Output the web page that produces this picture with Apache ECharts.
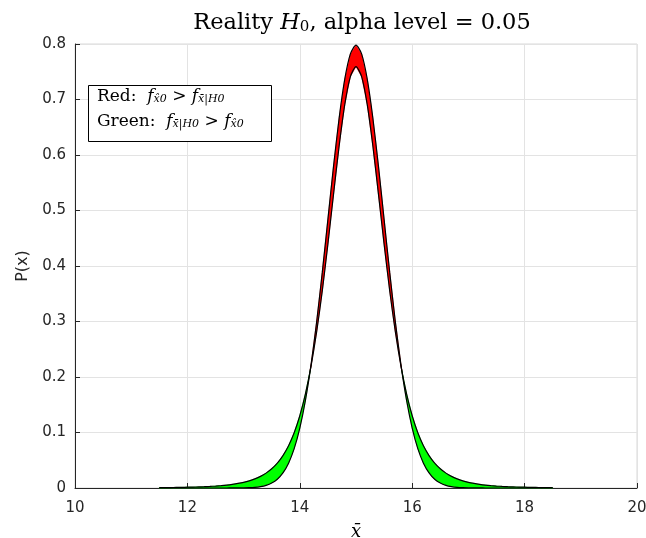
<!DOCTYPE html>
<html>
<head>
<meta charset="utf-8">
<script src="https://cdn.jsdelivr.net/npm/echarts@6/dist/echarts.min.js"></script>
<style>html,body{margin:0;padding:0;background:#fff}#c{width:646px;height:538px}</style>
</head>
<body>
<div id="c"></div>
<script>
// x positions (x-bar)
const xValues = [11.5,11.6,11.7,11.8,11.9,12.0,12.1,12.2,12.3,12.4,12.5,12.6,12.7,12.8,12.9,13.0,13.1,13.2,13.3,13.4,13.5,13.6,13.7,13.8,13.9,14.0,14.1,14.2,14.3,14.4,14.5,14.6,14.7,14.8,14.9,15.0,15.1,15.2,15.3,15.4,15.5,15.6,15.7,15.8,15.9,16.0,16.1,16.2,16.3,16.4,16.5,16.6,16.7,16.8,16.9,17.0,17.1,17.2,17.3,17.4,17.5,17.6,17.7,17.8,17.9,18.0,18.1,18.2,18.3,18.4,18.5];
// f_{x-hat_0} (narrow, taller curve)
const fHat = [0,0,0,0,0,0,0,0,0,0,0,0,0,0.0001,0.0001,0.0003,0.0006,0.0012,0.0025,0.0048,0.0089,0.0158,0.0272,0.0448,0.0709,0.1080,0.1579,0.2218,0.2995,0.3884,0.4839,0.5794,0.6665,0.7366,0.7821,0.7979,0.7821,0.7366,0.6665,0.5794,0.4839,0.3884,0.2995,0.2218,0.1579,0.1080,0.0709,0.0448,0.0272,0.0158,0.0089,0.0048,0.0025,0.0012,0.0006,0.0003,0.0001,0.0001,0,0,0,0,0,0,0,0,0,0,0,0,0];
// f_{x-bar|H_0} (heavier tails)
const fBar = [0.0006,0.0007,0.0008,0.0010,0.0012,0.0014,0.0016,0.0020,0.0024,0.0029,0.0035,0.0043,0.0053,0.0066,0.0082,0.0102,0.0129,0.0164,0.0209,0.0268,0.0346,0.0448,0.0584,0.0762,0.0996,0.1302,0.1696,0.2196,0.2815,0.3553,0.4393,0.5290,0.6163,0.6907,0.7413,0.7592,0.7413,0.6907,0.6163,0.5290,0.4393,0.3553,0.2815,0.2196,0.1696,0.1302,0.0996,0.0762,0.0584,0.0448,0.0346,0.0268,0.0209,0.0164,0.0129,0.0102,0.0082,0.0066,0.0053,0.0043,0.0035,0.0029,0.0024,0.0020,0.0016,0.0014,0.0012,0.0010,0.0008,0.0007,0.0006];
const xTicks = [10,12,14,16,18,20];
const yTicks = [0,0.1,0.2,0.3,0.4,0.5,0.6,0.7,0.8];

// split the band between the two curves into red (fHat > fBar) and green (fBar > fHat) regions
const pts = [];
for (let i = 0; i < xValues.length; i++) {
  pts.push({x:xValues[i], a:fHat[i], b:fBar[i]});
  if (i < xValues.length - 1) {
    const d0 = fHat[i]-fBar[i], d1 = fHat[i+1]-fBar[i+1];
    if (d0*d1 < 0) {
      const t = d0/(d0-d1);
      const y = fHat[i] + t*(fHat[i+1]-fHat[i]);
      pts.push({x:xValues[i]+t*(xValues[i+1]-xValues[i]), a:y, b:y, cross:true});
    }
  }
}
const groups = [];
let cur = null;
for (const p of pts) {
  if (p.cross) {
    if (cur) { cur.pts.push(p); groups.push(cur); }
    cur = {s:null, pts:[p]};
    continue;
  }
  const s = p.a - p.b > 0 ? 1 : -1;
  if (!cur) cur = {s, pts:[p]};
  else { if (cur.s === null) cur.s = s; cur.pts.push(p); }
}
if (cur) groups.push(cur);

const chart = echarts.init(document.getElementById('c'), null, {renderer:'canvas'});
const sans = 'DejaVu Sans';
const serif = 'DejaVu Serif';
chart.setOption({
  animation:false,
  backgroundColor:'#fff',
  title:{
    text:'{n|Reality }{i|H}{s|0}{n|, alpha level = 0.05}',
    left:357, top:4, textAlign:'center',
    textStyle:{
      fontWeight:'normal',
      rich:{
        n:{fontFamily:serif,fontSize:22.5,fontWeight:'normal',color:'#000',lineHeight:26,verticalAlign:'bottom'},
        i:{fontFamily:serif,fontSize:22.5,fontWeight:'normal',fontStyle:'italic',color:'#000',lineHeight:26,verticalAlign:'bottom'},
        s:{fontFamily:serif,fontSize:15,fontWeight:'normal',color:'#000',lineHeight:26,verticalAlign:'bottom',padding:[6,0,0,0]}
      }
    }
  },
  grid:{left:75,right:9,top:44,bottom:50,show:true,borderColor:'#d9d9d9',borderWidth:1,outerBoundsMode:'none',containLabel:false},
  xAxis:{
    type:'value',min:10,max:20,interval:2,
    name:'x\u0304',nameLocation:'middle',nameGap:35,
    nameTextStyle:{fontFamily:serif,fontStyle:'italic',fontSize:18,color:'#000'},
    axisLine:{show:true,lineStyle:{color:'#262626',width:1}},
    axisTick:{show:true,inside:true,length:5,lineStyle:{color:'#262626'}},
    axisLabel:{fontFamily:sans,fontSize:15,color:'#262626',margin:13,
      formatter:v=>xTicks.includes(v)?String(v):''},
    splitLine:{show:true,lineStyle:{color:'#e3e3e3',width:1}}
  },
  yAxis:{
    type:'value',min:0,max:0.8,interval:0.1,
    name:'P(x)',nameLocation:'middle',nameGap:43,
    nameTextStyle:{fontFamily:sans,fontSize:16,color:'#262626'},
    axisLine:{show:true,lineStyle:{color:'#262626',width:1}},
    axisTick:{show:true,inside:true,length:5,lineStyle:{color:'#262626'}},
    axisLabel:{fontFamily:sans,fontSize:15,color:'#262626',margin:9,
      formatter:v=>{const t=yTicks.find(k=>Math.abs(k-v)<1e-9);return t===undefined?'':(t===0?'0':t.toFixed(1));}},
    splitLine:{show:true,lineStyle:{color:'#e3e3e3',width:1}}
  },
  series:[
    {type:'custom',silent:true,z:2,
     data:groups.map(g=>[g.pts[0].x, 0]),
     encode:{x:0,y:1},
     renderItem:(params, api)=>{
       const g = groups[params.dataIndex];
       const top = g.pts.map(p=>api.coord([p.x,p.a]));
       const bot = g.pts.slice().reverse().map(p=>api.coord([p.x,p.b]));
       const col = g.s > 0 ? '#ff0000' : '#00ff00';
       return {type:'polygon', shape:{points:top.concat(bot)}, style:{fill:col, stroke:col, lineWidth:0.5}};
     }},
    {type:'line',data:xValues.map((x,i)=>[x,fHat[i]]),symbol:'none',smooth:0.25,lineStyle:{color:'#000',width:1.2},z:5},
    {type:'line',data:xValues.map((x,i)=>[x,fBar[i]]),symbol:'none',smooth:0.25,lineStyle:{color:'#000',width:1.2},z:5}
  ],
  graphic:[
    {type:'rect',left:88,top:85,shape:{width:183,height:56},style:{fill:'#fff',stroke:'#000',lineWidth:1},z:10},
    {type:'text',left:97,top:88,z:11,style:{
      text:'{n|Red:  }{i|f}{s|x\u03020}{n| > }{i|f}{s|x\u0304|H0}\n{n|Green:  }{i|f}{s|x\u0304|H0}{n| > }{i|f}{s|x\u03020}',
      rich:{
        n:{fontFamily:serif,fontSize:17,fill:'#000',lineHeight:25,verticalAlign:'bottom'},
        i:{fontFamily:serif,fontSize:17,fontStyle:'italic',fill:'#000',lineHeight:25,verticalAlign:'bottom'},
        s:{fontFamily:serif,fontSize:11,fontStyle:'italic',fill:'#000',lineHeight:25,verticalAlign:'bottom',padding:[6,0,0,0]}
      }
    }}
  ]
});
</script>
</body>
</html>
